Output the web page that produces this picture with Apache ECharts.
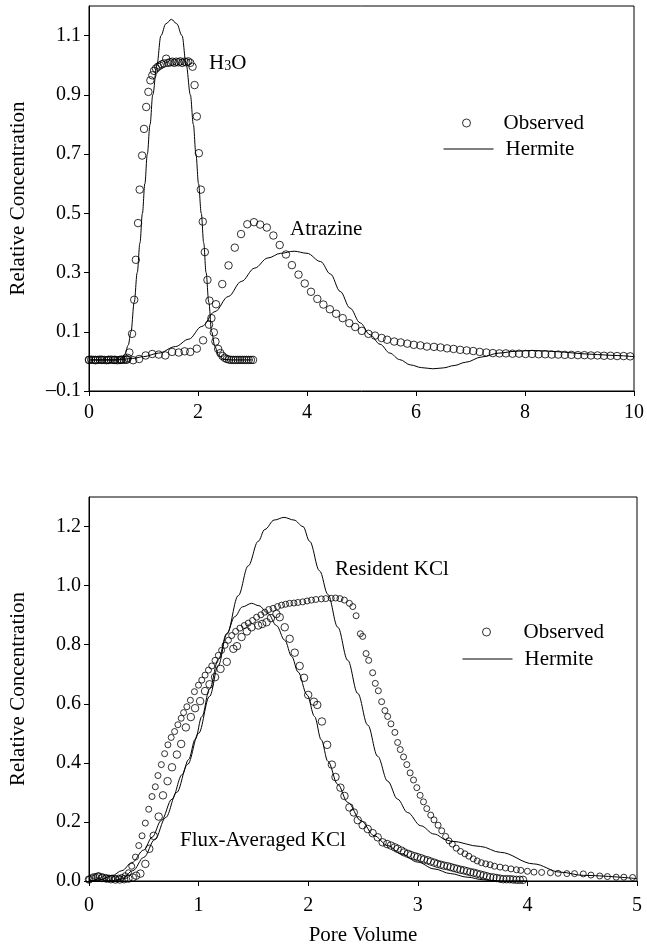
<!DOCTYPE html>
<html>
<head>
<meta charset="utf-8">
<script src="https://cdn.jsdelivr.net/npm/echarts@6/dist/echarts.min.js"></script>
<style>
  html, body { margin: 0; padding: 0; background: #fff; }
  #chart { width: 647px; height: 947px; }
</style>
</head>
<body>
<div id="chart"></div>
<script>
// ---- Upper panel: H3O and atrazine breakthrough curves ----
const h3oObsX = [0.00,0.04,0.08,0.12,0.16,0.20,0.24,0.28,0.32,0.36,0.40,0.44,0.48,0.52,0.56,0.60,0.64,0.68,
  0.71,0.74,0.79,0.83,0.86,0.90,0.93,0.975,1.01,1.05,
  1.09,1.126,1.162,1.193,1.229,1.266,1.30,1.338,1.375,1.416,
  1.45,1.49,1.53,1.565,1.60,1.64,1.675,1.71,1.75,1.785,
  1.82,1.858,1.90,1.937,1.979,2.016,2.052,2.088,2.125,2.173,
  2.21,2.246,2.29,2.32,2.37,2.41,2.45,2.49,2.53,2.57,
  2.61,2.65,2.69,2.73,2.77,2.81,2.85,2.89,2.93,2.97,3.01];
const h3oObsY = [0.005,0.006,0.005,0.004,0.005,0.006,0.005,0.005,0.004,0.005,0.006,0.005,0.005,0.004,0.005,0.006,0.005,0.006,
  0.012,0.03,0.093,0.208,0.343,0.467,0.58,0.695,0.785,0.859,
  0.91,0.949,0.966,0.981,0.989,0.995,0.999,1.003,1.006,1.022,
  1.008,1.01,1.012,1.008,1.012,1.01,1.013,1.008,1.012,1.01,
  1.013,1.008,0.995,0.933,0.827,0.703,0.58,0.472,0.369,0.275,
  0.205,0.146,0.098,0.067,0.042,0.028,0.018,0.012,0.008,0.006,
  0.005,0.005,0.005,0.005,0.005,0.005,0.005,0.005,0.005,0.005,0.005];

const atzObsX = [0.00,0.117,0.234,0.351,0.468,0.585,0.70,0.81,0.92,1.04,
  1.16,1.28,1.40,1.525,1.647,1.755,1.858,1.979,2.094,2.203,
  2.33,2.445,2.56,2.675,2.79,2.905,3.027,3.14,3.263,3.383,
  3.499,3.614,3.723,3.844,3.959,4.073,4.189,4.30,4.42,4.534,
  4.655,4.776,4.885,5.006,5.127,5.248,5.369,5.47,5.60,5.72,
  5.84,5.96,6.08,6.20,6.33,6.45,6.57,6.69,6.81,6.93,
  7.05,7.17,7.29,7.41,7.53,7.65,7.77,7.89,8.01,8.13,
  8.25,8.37,8.49,8.61,8.73,8.85,8.97,9.09,9.21,9.33,
  9.45,9.57,9.69,9.81,9.93];
const atzObsY = [0.005,0.005,0.005,0.005,0.005,0.005,0.006,0.004,0.008,0.02,
  0.025,0.023,0.02,0.032,0.03,0.034,0.032,0.043,0.071,0.124,
  0.193,0.261,0.324,0.384,0.43,0.463,0.47,0.462,0.452,0.425,
  0.393,0.361,0.325,0.293,0.263,0.235,0.211,0.192,0.176,0.161,
  0.146,0.129,0.116,0.103,0.093,0.087,0.079,0.073,0.067,0.064,
  0.06,0.056,0.054,0.05,0.049,0.047,0.044,0.042,0.039,0.037,
  0.035,0.032,0.03,0.028,0.027,0.027,0.026,0.026,0.025,0.025,
  0.024,0.024,0.023,0.023,0.022,0.022,0.021,0.021,0.02,0.02,
  0.019,0.019,0.018,0.018,0.017];

const h3oFitX = [0,0.3,0.5,0.58,0.66,0.72,0.77,0.83,0.885,0.935,
  0.98,1.025,1.07,1.12,1.17,1.245,1.32,1.41,1.513,1.61,
  1.707,1.785,1.86,1.915,1.962,2.01,2.06,2.105,2.148,2.198,
  2.25,2.31,2.38,2.47,2.6,3.0];
const h3oFitY = [0.005,0.005,0.005,0.008,0.025,0.055,0.1,0.2,0.3,0.4,
  0.5,0.6,0.7,0.8,0.9,1.0,1.1,1.14,1.155,1.14,
  1.1,1.0,0.9,0.8,0.7,0.6,0.5,0.4,0.3,0.2,
  0.1,0.05,0.02,0.007,0.005,0.005];

const atzFitX = [0,0.5,0.8,1.0,1.28,1.585,1.83,2.07,2.31,2.555,
  2.796,3.04,3.28,3.52,3.764,4.0,4.25,4.43,4.61,4.79,
  4.975,5.157,5.34,5.52,5.70,5.9,6.1,6.31,6.5,6.7,
  6.91,7.21,7.52,7.82,8.12,8.42,8.73,9.03,9.33,9.64,10.0];
const atzFitY = [0.005,0.005,0.01,0.016,0.028,0.05,0.075,0.118,0.168,0.219,
  0.27,0.315,0.349,0.365,0.372,0.365,0.337,0.295,0.236,0.18,
  0.13,0.09,0.058,0.028,0.006,-0.012,-0.021,-0.025,-0.022,-0.014,
  -0.003,0.015,0.028,0.034,0.037,0.035,0.031,0.026,0.023,0.02,0.016];

const topXTicks = [0, 2, 4, 6, 8, 10];
const topYTicks = [-0.1, 0.1, 0.3, 0.5, 0.7, 0.9, 1.1];

// ---- Lower panel: resident and flux-averaged KCl ----
const resObsX = [0.00,0.03,0.06,0.09,0.12,0.15,0.18,0.21,0.24,0.27,
  0.30,0.33,0.36,0.39,0.424,0.454,0.484,0.514,0.545,0.575,
  0.605,0.629,0.66,0.69,0.72,0.75,0.781,0.811,0.841,0.863,
  0.893,0.925,0.962,0.999,1.029,1.059,1.09,1.12,1.15,1.18,
  1.21,1.241,1.272,1.302,1.338,1.377,1.417,1.453,1.492,1.529,
  1.568,1.604,1.64,1.68,1.72,1.757,1.794,1.83,1.87,1.906,
  1.95,1.99,2.03,2.07,2.12,2.16,2.21,2.25,2.29,2.33,
  2.376,2.407,2.437,2.476,2.497,2.528,2.552,2.588,2.612,2.64,
  2.67,2.70,2.725,2.755,2.791,2.816,2.84,2.87,2.90,2.93,
  2.961,2.991,3.021,3.052,3.082,3.118,3.148,3.185,3.218,3.254,
  3.284,3.315,3.351,3.39,3.43,3.466,3.506,3.542,3.58,3.62,
  3.66,3.70,3.75,3.80,3.85,3.90,3.94,4.00,4.06,4.13,
  4.21,4.28,4.36,4.43,4.51,4.58,4.66,4.73,4.81,4.88,4.96];
const resObsY = [0.005,0.01,0.015,0.018,0.015,0.012,0.01,0.01,0.008,0.01,
  0.012,0.018,0.028,0.05,0.081,0.12,0.153,0.196,0.243,0.286,
  0.319,0.357,0.394,0.431,0.461,0.486,0.506,0.529,0.551,0.57,
  0.59,0.612,0.641,0.663,0.68,0.697,0.714,0.728,0.747,0.764,
  0.781,0.798,0.815,0.831,0.845,0.856,0.865,0.873,0.882,0.893,
  0.901,0.91,0.919,0.923,0.929,0.934,0.937,0.94,0.941,0.943,
  0.945,0.948,0.951,0.953,0.955,0.956,0.957,0.958,0.956,0.951,
  0.94,0.929,0.898,0.837,0.828,0.77,0.747,0.705,0.669,0.644,
  0.607,0.577,0.557,0.532,0.503,0.469,0.445,0.42,0.394,0.366,
  0.342,0.316,0.29,0.268,0.245,0.223,0.207,0.189,0.17,0.151,
  0.136,0.125,0.111,0.1,0.092,0.084,0.075,0.068,0.062,0.058,
  0.055,0.05,0.047,0.044,0.041,0.038,0.036,0.033,0.03,0.029,
  0.028,0.026,0.025,0.025,0.024,0.02,0.017,0.015,0.013,0.013,0.012];

const fluxObsX = [0.00,0.04,0.08,0.12,0.16,0.20,0.24,0.28,0.32,0.36,
  0.40,0.43,0.469,0.514,0.55,0.59,0.636,0.675,0.717,0.757,
  0.802,0.841,0.884,0.929,0.968,1.014,1.059,1.10,1.15,1.20,
  1.257,1.317,1.35,1.392,1.44,1.483,1.544,1.58,1.62,1.66,
  1.71,1.74,1.786,1.831,1.877,1.922,1.962,2.0,2.052,2.083,
  2.125,2.173,2.216,2.249,2.294,2.331,2.376,2.416,2.452,2.497,
  2.543,2.588,2.634,2.679,2.72,2.755,2.79,2.816,2.85,2.876,
  2.91,2.937,2.97,2.997,3.03,3.057,3.09,3.118,3.15,3.179,
  3.21,3.239,3.27,3.30,3.33,3.36,3.39,3.42,3.45,3.48,
  3.51,3.54,3.57,3.60,3.63,3.66,3.69,3.72,3.75,3.78,
  3.81,3.84,3.87,3.90,3.93,3.96];
const fluxObsY = [0.005,0.012,0.015,0.01,0.008,0.006,0.005,0.005,0.006,0.008,
  0.012,0.018,0.025,0.058,0.109,0.153,0.218,0.29,0.338,0.385,
  0.428,0.464,0.52,0.555,0.585,0.609,0.643,0.666,0.69,0.718,
  0.742,0.786,0.795,0.826,0.845,0.859,0.865,0.87,0.876,0.89,
  0.904,0.893,0.859,0.82,0.773,0.728,0.688,0.63,0.607,0.596,
  0.54,0.461,0.394,0.352,0.316,0.288,0.249,0.232,0.206,0.189,
  0.176,0.162,0.148,0.131,0.125,0.12,0.114,0.109,0.103,0.097,
  0.092,0.088,0.084,0.081,0.077,0.073,0.07,0.066,0.062,0.058,
  0.055,0.052,0.05,0.047,0.044,0.041,0.038,0.036,0.033,0.03,
  0.028,0.025,0.022,0.019,0.016,0.013,0.012,0.01,0.008,0.006,
  0.006,0.006,0.005,0.004,0.004,0.004];

const resFitX = [0,0.2,0.3,0.4,0.5,0.6,0.7,0.8,0.9,1.0,
  1.1,1.18,1.257,1.362,1.453,1.544,1.604,1.69,1.78,1.87,
  1.953,2.013,2.104,2.18,2.27,2.361,2.452,2.543,2.634,2.725,
  2.816,2.906,3.027,3.148,3.27,3.3,3.57,3.754,4.056,4.3,
  4.51,5.0];
const resFitY = [0,0.0,0.007,0.035,0.08,0.14,0.215,0.3,0.395,0.5,
  0.625,0.73,0.835,0.966,1.067,1.15,1.19,1.222,1.231,1.222,
  1.2,1.15,1.05,0.97,0.859,0.747,0.635,0.528,0.422,0.338,
  0.277,0.232,0.187,0.159,0.138,0.135,0.117,0.097,0.058,0.03,
  0.019,0.008];

const fluxFitX = [0,0.1,0.21,0.3,0.39,0.5,0.575,0.66,0.757,0.85,
  0.908,0.97,1.03,1.1,1.18,1.257,1.33,1.40,1.483,1.55,
  1.635,1.71,1.786,1.85,1.907,1.99,2.058,2.119,2.18,2.27,
  2.361,2.482,2.603,2.725,2.846,3.0,3.148,3.3,3.45,3.6,
  3.75,4.0];
const fluxFitY = [0,0.004,0.018,0.035,0.062,0.105,0.148,0.205,0.277,0.36,
  0.411,0.48,0.557,0.65,0.75,0.838,0.895,0.928,0.94,0.932,
  0.905,0.865,0.815,0.76,0.708,0.63,0.557,0.478,0.405,0.327,
  0.266,0.204,0.153,0.12,0.092,0.064,0.041,0.025,0.013,0.004,
  0.0,0.0];

const botXTicks = [0, 1, 2, 3, 4, 5];
const botYTicks = [0, 0.2, 0.4, 0.6, 0.8, 1.0, 1.2];

// ---- chart construction ----
const FONT = '"Liberation Serif", "Times New Roman", Times, serif';
const pair = (xs, ys) => xs.map((x, i) => [x, ys[i]]);

function axis(extra, ticks, fmt, margin) {
  return Object.assign({
    type: 'value',
    axisLine: { show: true, onZero: false, lineStyle: { color: '#000', width: 1 } },
    axisTick: { show: true, inside: false, length: 5, lineStyle: { color: '#000', width: 1 }, customValues: ticks },
    axisLabel: { color: '#000', fontFamily: FONT, fontSize: 20, margin, customValues: ticks, formatter: fmt },
    splitLine: { show: false },
    nameTextStyle: { color: '#000', fontFamily: FONT, fontSize: 21 }
  }, extra);
}
const fmtInt = v => String(Math.round(v));
const fmtOne = v => (v < 0 ? '\u2013' : '') + Math.abs(v).toFixed(1);

const circleStyle = { color: 'rgba(0,0,0,0)', borderColor: '#000', borderWidth: 1 };
function scatter(name, data, xi, size) {
  return { type: 'scatter', name, xAxisIndex: xi, yAxisIndex: xi, data,
    symbol: 'circle', symbolSize: size, itemStyle: circleStyle, z: 3, emphasis: { disabled: true } };
}
function fit(name, data, xi) {
  return { type: 'line', name, xAxisIndex: xi, yAxisIndex: xi, data,
    showSymbol: false, symbol: 'none', smooth: 0.35, smoothMonotone: 'x',
    lineStyle: { color: '#000', width: 1 }, itemStyle: { color: '#000' }, z: 2 };
}

const legendText = { color: '#000', fontFamily: FONT, fontSize: 21, lineHeight: 22, padding: [0, 0, 0, 7] };
function legendObs(left, top) {
  return { data: [{ name: 'Observed', icon: 'circle', itemStyle: circleStyle }], left, top,
    padding: 0, itemWidth: 50, itemHeight: 8, selectedMode: false, textStyle: legendText };
}
function legendFit(left, top) {
  return { data: [{ name: 'Hermite', itemStyle: { opacity: 0, borderWidth: 0 } }], left, top, padding: 0,
    itemWidth: 50, itemHeight: 14, selectedMode: false, textStyle: legendText,
    lineStyle: { color: '#000', width: 1, opacity: 1 } };
}

function label(x, y, text) {
  return { type: 'text', x, y, style: { text, fill: '#000', fontFamily: FONT, fontSize: 21, verticalAlign: 'middle' } };
}

const option = {
  animation: false,
  backgroundColor: '#fff',
  grid: [
    { left: 86, right: 10, top: 6, height: 385, show: true, borderColor: '#000', borderWidth: 1 },
    { left: 87, right: 10, top: 497, height: 385, show: true, borderColor: '#000', borderWidth: 1 }
  ],
  xAxis: [
    axis({ gridIndex: 0, min: 0, max: 10 }, topXTicks, fmtInt, 12),
    axis({ gridIndex: 1, min: 0, max: 5, name: 'Pore Volume', nameLocation: 'middle', nameGap: 44 }, botXTicks, fmtInt, 15)
  ],
  yAxis: [
    axis({ gridIndex: 0, min: -0.1, max: 1.2, name: 'Relative Concentration', nameLocation: 'middle', nameGap: 60 }, topYTicks, fmtOne, 8),
    axis({ gridIndex: 1, min: 0, max: 1.3, name: 'Relative Concentration', nameLocation: 'middle', nameGap: 60 }, botYTicks, fmtOne, 8)
  ],
  legend: [legendObs(462, 112), legendFit(443, 138), legendObs(482, 621), legendFit(462, 648)],
  series: [
    fit('Hermite', pair(h3oFitX, h3oFitY), 0),
    fit('Hermite', pair(atzFitX, atzFitY), 0),
    scatter('Observed', pair(h3oObsX, h3oObsY), 0, 7.5),
    scatter('Observed', pair(atzObsX, atzObsY), 0, 7.5),
    fit('Hermite', pair(resFitX, resFitY), 1),
    fit('Hermite', pair(fluxFitX, fluxFitY), 1),
    scatter('Observed', pair(resObsX, resObsY), 1, 6),
    scatter('Observed', pair(fluxObsX, fluxObsY), 1, 7.5)
  ],
  graphic: [
    { type: 'text', x: 209, y: 63, style: {
        text: '{a|H}{b|3}{a|O}', fill: '#000', verticalAlign: 'middle',
        rich: { a: { fontFamily: FONT, fontSize: 21 }, b: { fontFamily: FONT, fontSize: 14, padding: [7, 0, 0, 0] } } } },
    label(290, 229, 'Atrazine'),
    label(335, 569, 'Resident KCl'),
    label(180, 840, 'Flux-Averaged KCl')
  ]
};

const chart = echarts.init(document.getElementById('chart'), null, { renderer: 'canvas' });
chart.setOption(option);
</script>
</body>
</html>
